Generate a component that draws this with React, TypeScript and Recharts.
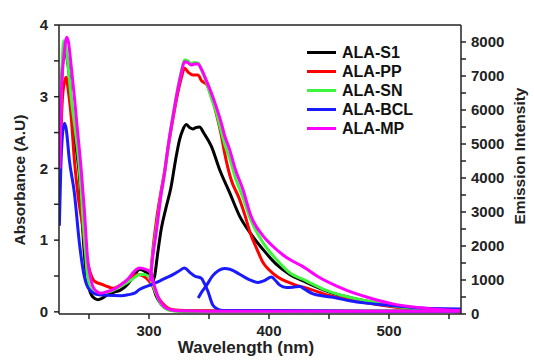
import React from "react";
import { LineChart, Line, XAxis, YAxis, ReferenceLine } from "recharts";

// absorbance spectra (left axis, A.U)
const s1AbsWl = [226, 227.5, 229.5, 231.5, 233.5, 235, 238, 240, 242, 243.5, 245.5, 247.6, 250, 253, 257.3, 261, 265.6, 270, 276.8, 283, 288, 292, 296, 300.4, 303, 306, 310, 314, 320, 330, 400, 480, 560];
const s1Abs = [2.3, 3.3, 3.65, 3.55, 3.3, 2.95, 2.45, 2.2, 1.9, 1.5, 0.95, 0.54, 0.33, 0.21, 0.17, 0.19, 0.24, 0.27, 0.31, 0.4, 0.52, 0.59, 0.57, 0.5, 0.38, 0.22, 0.11, 0.05, 0.02, 0.01, 0.01, 0.01, 0.01];

const ppAbsWl = [226, 227.8, 229.5, 230.9, 233, 235, 237.8, 241, 244.7, 247, 250.3, 254.5, 261.4, 266, 269.8, 273, 276.8, 283, 290.6, 294, 297.7, 300.5, 303, 306, 308.8, 314.4, 320, 330, 400, 480, 560];
const ppAbs = [2.2, 2.96, 3.2, 3.27, 3.05, 2.75, 2.12, 1.6, 1.19, 0.85, 0.59, 0.43, 0.38, 0.35, 0.33, 0.34, 0.38, 0.45, 0.52, 0.51, 0.47, 0.42, 0.36, 0.25, 0.17, 0.07, 0.03, 0.02, 0.01, 0.01, 0.01];

const snAbsWl = [226, 227.5, 228.9, 230.5, 232.5, 235, 238, 242, 245, 247, 249, 252, 258.7, 265, 270, 276.8, 283, 288, 292, 296, 299, 302, 305, 308, 312, 318, 325, 400, 480, 560];
const snAbs = [2.5, 3.4, 3.78, 3.72, 3.45, 3.0, 2.6, 2.0, 1.3, 0.85, 0.45, 0.3, 0.24, 0.27, 0.3, 0.36, 0.42, 0.48, 0.52, 0.52, 0.5, 0.42, 0.3, 0.17, 0.07, 0.02, 0.01, 0.01, 0.01, 0.01];

const bclAbsWl = [225.3, 226.5, 227.8, 229.5, 231, 233.6, 237.8, 242, 246, 250.3, 257.3, 265, 276.8, 283, 288, 292, 301.8, 308.8, 315, 319.9, 325, 329.6, 334, 338, 343.6, 346, 349, 353, 357, 362, 400, 480, 560];
const bclAbs = [1.2, 2.0, 2.45, 2.63, 2.55, 2.12, 1.66, 0.96, 0.5, 0.31, 0.24, 0.23, 0.226, 0.24, 0.26, 0.31, 0.38, 0.43, 0.48, 0.52, 0.57, 0.61, 0.55, 0.5, 0.47, 0.4, 0.29, 0.1, 0.04, 0.02, 0.02, 0.01, 0.01];

const mpAbsWl = [225.8, 227, 229, 231.5, 233, 235, 237.8, 240, 243.4, 246, 248.9, 251, 253, 256, 260, 265, 270, 276.8, 282, 287, 292, 297.7, 301.8, 303.5, 307.3, 310, 313, 318, 325, 350, 400, 450, 500, 560];
const mpAbs = [2.0, 3.1, 3.55, 3.83, 3.75, 3.45, 3.0, 2.6, 2.0, 1.45, 0.73, 0.5, 0.36, 0.29, 0.26, 0.28, 0.31, 0.38, 0.45, 0.55, 0.61, 0.59, 0.54, 0.42, 0.22, 0.13, 0.07, 0.03, 0.015, 0.01, 0.01, 0.01, 0.01, 0.01];

// emission spectra (right axis)
const s1EmWl = [302, 304.6, 307.3, 310.2, 314, 318.5, 322, 325.5, 328, 331, 334, 336.6, 339, 342, 346, 352, 358.8, 367.2, 375.5, 384, 395, 406, 417, 431, 451, 467, 490, 510, 535, 560];
const s1Em = [900, 1100, 1800, 2500, 3100, 3760, 4500, 5130, 5400, 5570, 5480, 5440, 5480, 5500, 5300, 4930, 4250, 3570, 2880, 2400, 1900, 1465, 1170, 930, 636, 490, 320, 200, 120, 70];

const ppEmWl = [301, 303, 306, 310, 313, 316, 320, 324, 327, 329.6, 333, 336.6, 340.7, 344, 348, 352, 356, 360, 363, 368, 375.5, 380, 384, 390, 395, 400, 406, 420, 434, 451, 467, 490, 510, 535, 560];
const ppEm = [1000, 1800, 2700, 3600, 4200, 4900, 5750, 6500, 6950, 7230, 7100, 7030, 7030, 6850, 6750, 6400, 5900, 5300, 4740, 4000, 3370, 2900, 2420, 1900, 1515, 1300, 1120, 880, 733, 536, 420, 280, 180, 100, 60];

const snEmWl = [301, 303, 306, 310, 313, 316, 320, 324, 327, 329.6, 332, 335, 338, 341, 344, 348, 352, 356, 360, 363, 367, 372, 378, 385, 395, 406, 417, 431, 445, 462, 481, 505, 530, 560];
const snEm = [1000, 1700, 2500, 3500, 4150, 4950, 5850, 6650, 7150, 7470, 7450, 7370, 7400, 7380, 7150, 6800, 6350, 5950, 5400, 5000, 4600, 4000, 3450, 2750, 2100, 1610, 1220, 976, 733, 536, 390, 230, 140, 80];

const bclEmWl = [341, 344, 347.7, 353, 358, 363, 368, 375.5, 383, 390.8, 396, 402, 405, 409, 414.5, 420, 425.6, 430, 436.7, 445, 453.4, 467, 481, 495, 509, 523, 537, 560];
const bclEm = [470, 650, 830, 1120, 1280, 1340, 1310, 1170, 1020, 930, 980, 1090, 1000, 850, 780, 790, 810, 720, 590, 530, 490, 390, 320, 270, 225, 185, 160, 150];

const mpEmWl = [301, 303, 306, 310, 313, 316, 320, 324, 327, 329.6, 332, 335.2, 338, 340.7, 344, 348, 352, 356, 360, 363, 367.2, 372, 378.3, 385, 395, 403, 412, 417, 428, 442, 456, 473, 484, 504, 531, 560];
const mpEm = [950, 1650, 2400, 3500, 4150, 4950, 5810, 6600, 7100, 7420, 7400, 7325, 7350, 7354, 7180, 6850, 6500, 6100, 5650, 5250, 4835, 4250, 3660, 2880, 2300, 2000, 1730, 1610, 1400, 1075, 830, 590, 470, 290, 165, 100];

const xTicks = [250, 300, 350, 400, 450, 500, 550];
const leftTicks = [0, 0.5, 1, 1.5, 2, 2.5, 3, 3.5, 4];
const rightTicks = [0, 500, 1000, 1500, 2000, 2500, 3000, 3500, 4000, 4500, 5000, 5500, 6000, 6500, 7000, 7500, 8000];

const pts = (xs: number[], ys: number[]) => xs.map((x, i) => ({ x, y: ys[i] }));

const series = [
  { name: "ALA-S1", color: "#000000", abs: pts(s1AbsWl, s1Abs), em: pts(s1EmWl, s1Em) },
  { name: "ALA-PP", color: "#ff0000", abs: pts(ppAbsWl, ppAbs), em: pts(ppEmWl, ppEm) },
  { name: "ALA-SN", color: "#3df53d", abs: pts(snAbsWl, snAbs), em: pts(snEmWl, snEm) },
  { name: "ALA-BCL", color: "#1a1aff", abs: pts(bclAbsWl, bclAbs), em: pts(bclEmWl, bclEm) },
  { name: "ALA-MP", color: "#ff00ff", abs: pts(mpAbsWl, mpAbs), em: pts(mpEmWl, mpEm) },
];

const FONT = '"Liberation Sans", Arial, sans-serif';
const AX = "#222";
const tickStyle = { fill: AX, fontSize: 15, fontWeight: "bold", fontFamily: FONT };

const titleStyle: React.CSSProperties = {
  position: "absolute",
  fontFamily: FONT,
  fontWeight: "bold",
  fontSize: 15.5,
  color: AX,
  textAlign: "center",
  whiteSpace: "nowrap",
  width: 200,
  height: 20,
  lineHeight: "20px",
};

export default function App() {
  return (
    <div style={{ position: "absolute", left: 0, top: 0, width: 534, height: 362, background: "#fff" }}>
      <LineChart width={534} height={362} margin={{ top: 25, right: 18, bottom: 18, left: 14 }}>
        <XAxis
          dataKey="x"
          type="number"
          domain={[225, 560]}
          allowDataOverflow
          ticks={xTicks}
          interval={0}
          tickFormatter={(v: number) => (v % 100 === 0 ? String(v) : "")}
          height={30}
          tickSize={5}
          tickMargin={6}
          tick={tickStyle}
          axisLine={{ stroke: AX, strokeWidth: 1.5 }}
          tickLine={{ stroke: AX, strokeWidth: 1.5 }}
        />
        <YAxis
          yAxisId="left"
          type="number"
          domain={[-0.03, 4]}
          allowDataOverflow
          ticks={leftTicks}
          interval={0}
          tickFormatter={(v: number) => (Number.isInteger(v) ? String(v) : "")}
          width={45}
          tickSize={5}
          tickMargin={6}
          tick={tickStyle}
          axisLine={{ stroke: AX, strokeWidth: 1.5 }}
          tickLine={{ stroke: AX, strokeWidth: 1.5 }}
        />
        <YAxis
          yAxisId="right"
          orientation="right"
          type="number"
          domain={[0, 8500]}
          allowDataOverflow
          ticks={rightTicks}
          interval={0}
          tickFormatter={(v: number) => (v % 1000 === 0 ? String(v) : "")}
          width={55}
          tickSize={5}
          tickMargin={5}
          tick={tickStyle}
          axisLine={{ stroke: AX, strokeWidth: 1.5 }}
          tickLine={{ stroke: AX, strokeWidth: 1.5 }}
        />
        <ReferenceLine yAxisId="left" y={4} stroke={AX} strokeWidth={1.5} />
        {series.map((s) => [
          <Line
            key={s.name + "-abs"}
            yAxisId="left"
            data={s.abs}
            dataKey="y"
            type="monotone"
            stroke={s.color}
            strokeWidth={3}
            dot={false}
            isAnimationActive={false}
          />,
          <Line
            key={s.name + "-em"}
            yAxisId="right"
            data={s.em}
            dataKey="y"
            type="monotone"
            stroke={s.color}
            strokeWidth={3}
            dot={false}
            isAnimationActive={false}
          />,
        ])}
      </LineChart>

      {/* legend */}
      <div style={{ position: "absolute", left: 307, top: 43, fontFamily: FONT, fontWeight: "bold", fontSize: 16, color: "#111" }}>
        {series.map((s) => (
          <div key={s.name} style={{ display: "flex", alignItems: "center", height: 19 }}>
            <div style={{ width: 29, height: 3, background: s.color, marginRight: 6 }} />
            <span>{s.name}</span>
          </div>
        ))}
      </div>

      {/* axis titles */}
      <div style={{ ...titleStyle, left: 20 - 100, top: 180 - 10, transform: "rotate(-90deg)" }}>Absorbance (A.U)</div>
      <div style={{ ...titleStyle, left: 520 - 100, top: 156 - 10, transform: "rotate(-90deg)" }}>Emission Intensity</div>
      <div style={{ ...titleStyle, fontSize: 17, left: 246 - 100, top: 348 - 10 }}>Wavelength (nm)</div>
    </div>
  );
}
